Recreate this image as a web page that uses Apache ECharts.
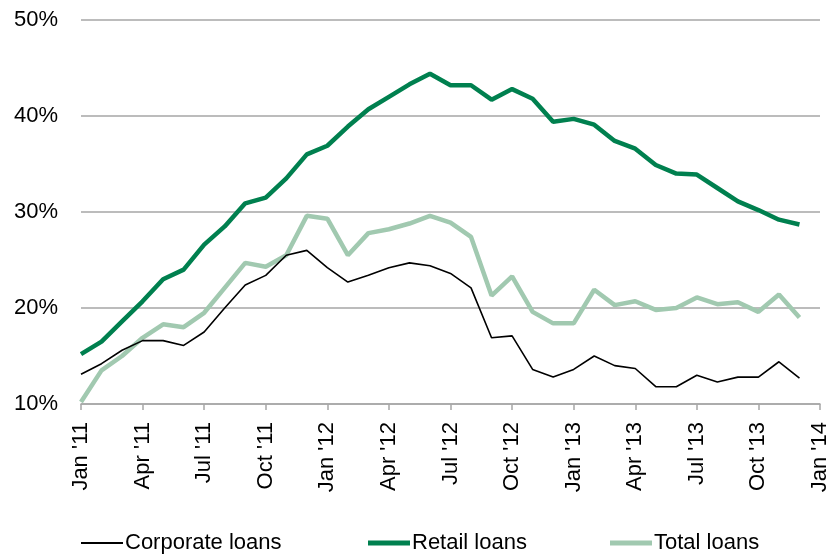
<!DOCTYPE html>
<html>
<head>
<meta charset="utf-8">
<script src="https://cdn.jsdelivr.net/npm/echarts@6/dist/echarts.min.js"></script>
<style>
  html, body { margin: 0; padding: 0; background: #fff; }
  #chart { width: 831px; height: 556px; }
</style>
</head>
<body>
<div id="chart"></div>
<script>
// Monthly year-on-year loan growth, Jan 2011 – Dec 2013 (axis runs to Jan 2014)
const monthNames = ['Jan', 'Feb', 'Mar', 'Apr', 'May', 'Jun', 'Jul', 'Aug', 'Sep', 'Oct', 'Nov', 'Dec'];
const years = ['11', '12', '13'];
const categories = [];
years.forEach(y => monthNames.forEach(m => categories.push(m + " '" + y)));
categories.push("Jan '14");

const corporateLoans = [
  13.1, 14.2, 15.6, 16.6, 16.6, 16.1, 17.5, 20.0, 22.4, 23.4, 25.5, 26.0,
  24.2, 22.7, 23.4, 24.2, 24.7, 24.4, 23.6, 22.1, 16.9, 17.1, 13.6, 12.8,
  13.6, 15.0, 14.0, 13.7, 11.8, 11.8, 13.0, 12.3, 12.8, 12.8, 14.4, 12.7
];
const retailLoans = [
  15.2, 16.5, 18.6, 20.7, 23.0, 24.0, 26.6, 28.5, 30.9, 31.5, 33.5, 36.0,
  36.9, 38.9, 40.7, 42.0, 43.3, 44.4, 43.2, 43.2, 41.7, 42.8, 41.8, 39.4,
  39.7, 39.1, 37.4, 36.6, 34.9, 34.0, 33.9, 32.5, 31.1, 30.2, 29.2, 28.7
];
const totalLoans = [
  10.2, 13.5, 15.0, 16.9, 18.3, 18.0, 19.5, 22.1, 24.7, 24.3, 25.5, 29.6,
  29.3, 25.5, 27.8, 28.2, 28.8, 29.6, 28.9, 27.4, 21.3, 23.3, 19.6, 18.4,
  18.4, 21.9, 20.3, 20.7, 19.8, 20.0, 21.1, 20.4, 20.6, 19.6, 21.4, 19.0
];
const yTicks = { min: 10, max: 50, step: 10 };

const FONT = 'Liberation Sans, Arial, sans-serif';
const chart = echarts.init(document.getElementById('chart'));

function legendFor(name, left, thickness) {
  return {
    data: [{ name: name, icon: 'rect' }],
    left: left,
    top: 532,
    itemWidth: 42,
    itemHeight: thickness,
    textStyle: { fontFamily: FONT, fontSize: 22, color: '#000', padding: [0, 0, 0, -3] },
    padding: 0
  };
}

chart.setOption({
  animation: false,
  backgroundColor: '#fff',
  grid: { left: 81, right: 9, top: 20, bottom: 152 },
  legend: [
    legendFor('Corporate loans', 81, 2),
    legendFor('Retail loans', 368, 5),
    legendFor('Total loans', 610, 5)
  ],
  xAxis: {
    type: 'category',
    data: categories,
    boundaryGap: false,
    axisLine: { show: true, lineStyle: { color: '#a6a6a6', width: 1.5 } },
    axisTick: { show: true, interval: 2, length: 6, lineStyle: { color: '#a6a6a6', width: 1.5 } },
    axisLabel: {
      interval: 2,
      rotate: 90,
      margin: 18,
      fontFamily: FONT,
      fontSize: 22,
      color: '#000'
    },
    splitLine: { show: false }
  },
  yAxis: {
    type: 'value',
    min: yTicks.min,
    max: yTicks.max,
    interval: yTicks.step,
    axisLine: { show: false },
    axisTick: { show: false },
    axisLabel: {
      formatter: '{value}%',
      margin: 23,
      fontFamily: FONT,
      fontSize: 22,
      color: '#000'
    },
    splitLine: { show: true, lineStyle: { color: '#a6a6a6', width: 1.5 } }
  },
  series: [
    {
      name: 'Corporate loans',
      type: 'line',
      data: corporateLoans,
      showSymbol: false,
      symbol: 'none',
      lineStyle: { color: '#000', width: 1.6 },
      itemStyle: { color: '#000' },
      z: 3
    },
    {
      name: 'Retail loans',
      type: 'line',
      data: retailLoans,
      showSymbol: false,
      symbol: 'none',
      lineStyle: { color: '#00804f', width: 4.5 },
      itemStyle: { color: '#00804f' },
      z: 2
    },
    {
      name: 'Total loans',
      type: 'line',
      data: totalLoans,
      showSymbol: false,
      symbol: 'none',
      lineStyle: { color: '#a1c9b0', width: 4.5 },
      itemStyle: { color: '#a1c9b0' },
      z: 1
    }
  ]
});
</script>
</body>
</html>
